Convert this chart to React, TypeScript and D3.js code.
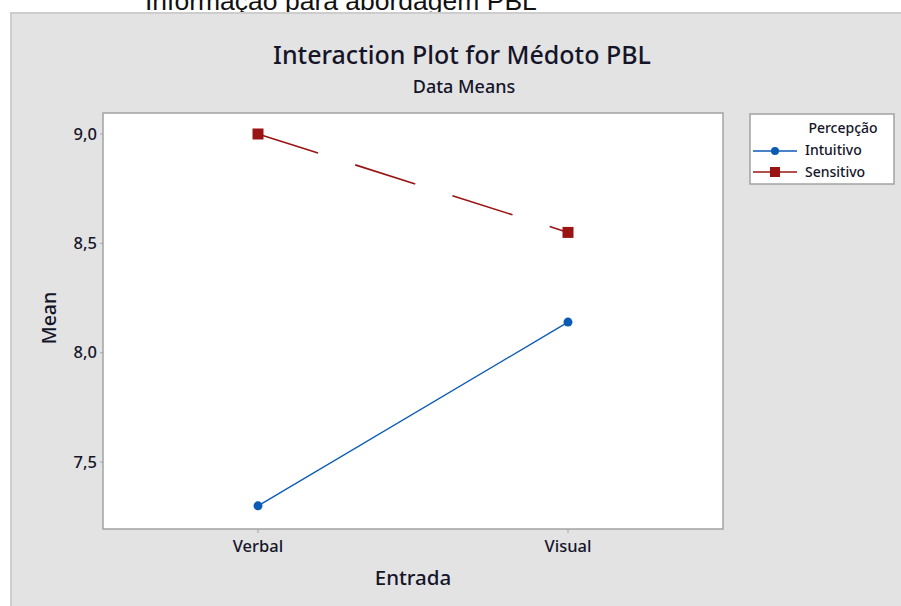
import React from 'react';
import * as d3 from 'd3';

// chart values
const entradas = ['Verbal', 'Visual'];
const intuitivo = [7.3, 8.14];
const sensitivo = [9.0, 8.55];
const yTicks = [7.5, 8.0, 8.5, 9.0];

const W = 901;
const H = 606;
const plot = { left: 103, top: 113, right: 723, bottom: 529 };
const font = "'Noto Sans', 'Open Sans', sans-serif";
const ink = '#15152a';

const App = () => {
    const x = d3.scalePoint<string>()
        .domain(entradas)
        .range([plot.left, plot.right])
        .padding(0.5);

    const y = d3.scaleLinear()
        .domain([7.194, 9.096])
        .range([plot.bottom, plot.top]);

    const line = d3.line<number>()
        .x((d, i) => x(entradas[i]) as number)
        .y(d => y(d));

    const fmt = (v: number) => d3.format('.1f')(v).replace('.', ',');

    const blue = '#0b5bb5';
    const red = '#9a1414';

    return (
        <svg width={W} height={H} style={{ position: 'absolute', left: 0, top: 0, display: 'block' }}>
            <rect x={0} y={0} width={W} height={H} fill="#ffffff" />
            {/* caption cut off at the top, as in the source */}
            <text x={145} y={10} fontFamily="'Liberation Sans', Arial, sans-serif" fontSize={26.5} fill="#111">
                Informação para abordagem PBL
            </text>
            {/* grey panel */}
            <rect x={10} y={12} width={W} height={H} fill="#e3e3e3" />
            <line x1={11} y1={12} x2={11} y2={H} stroke="#cdcdcd" strokeWidth={2} />
            <line x1={10} y1={13} x2={W} y2={13} stroke="#cdcdcd" strokeWidth={2} />

            {/* titles */}
            <text x={462} y={64} textAnchor="middle" fontFamily={font} fontSize={25} fontWeight={500} fill={ink}>
                Interaction Plot for Médoto PBL
            </text>
            <text x={464} y={93} textAnchor="middle" fontFamily={font} fontSize={18} fontWeight={500} fill={ink}>
                Data Means
            </text>

            {/* plot area */}
            <rect x={plot.left} y={plot.top} width={plot.right - plot.left} height={plot.bottom - plot.top}
                fill="#ffffff" stroke="#a3a3a3" strokeWidth={1.5} />

            {/* y axis */}
            {yTicks.map(t => (
                <g key={t}>
                    <line x1={plot.left - 3} x2={plot.left} y1={y(t)} y2={y(t)} stroke="#a3a3a3" strokeWidth={1} />
                    <text x={plot.left - 6} y={y(t)} dy="0.35em" textAnchor="end" fontFamily={font} fontSize={16.5} fontWeight={500} fill={ink}>
                        {fmt(t)}
                    </text>
                </g>
            ))}
            <text transform={`translate(56,318) rotate(-90)`} textAnchor="middle"
                fontFamily={font} fontSize={19.5} fontWeight={500} fill={ink}>
                Mean
            </text>

            {/* x axis */}
            {entradas.map(e => (
                <g key={e}>
                    <line x1={x(e)} x2={x(e)} y1={plot.bottom} y2={plot.bottom + 4} stroke="#a3a3a3" strokeWidth={1} />
                    <text x={x(e)} y={plot.bottom + 23} textAnchor="middle" fontFamily={font} fontSize={16.5} fontWeight={500} fill={ink}>
                        {e}
                    </text>
                </g>
            ))}
            <text x={413} y={585} textAnchor="middle" fontFamily={font} fontSize={20.5} fontWeight={500} fill={ink}>
                Entrada
            </text>

            {/* series */}
            <path d={line(intuitivo) || ''} fill="none" stroke={blue} strokeWidth={1.3} />
            <path d={line(sensitivo) || ''} fill="none" stroke={red} strokeWidth={1.6} strokeDasharray="63 39" />
            {intuitivo.map((v, i) => (
                <circle key={i} cx={x(entradas[i])} cy={y(v)} r={4.5} fill={blue} />
            ))}
            {sensitivo.map((v, i) => (
                <rect key={i} x={(x(entradas[i]) as number) - 5.5} y={y(v) - 5.5} width={11} height={11} fill={red} />
            ))}

            {/* legend */}
            <rect x={750} y={114} width={144} height={70} fill="#ffffff" stroke="#a3a3a3" strokeWidth={1.5} />
            <text x={843} y={133} textAnchor="middle" fontFamily={font} fontSize={14} fontWeight={500} fill={ink}>Percepção</text>
            <line x1={753} x2={797} y1={151} y2={151} stroke={blue} strokeWidth={1.3} />
            <circle cx={775} cy={151} r={4} fill={blue} />
            <text x={805} y={155} fontFamily={font} fontSize={14} fontWeight={500} fill={ink}>Intuitivo</text>
            <line x1={753} x2={797} y1={172} y2={172} stroke={red} strokeWidth={1.6} />
            <rect x={770} y={167} width={10} height={10} fill={red} />
            <text x={805} y={177} fontFamily={font} fontSize={14} fontWeight={500} fill={ink}>Sensitivo</text>
        </svg>
    );
};

export default App;
